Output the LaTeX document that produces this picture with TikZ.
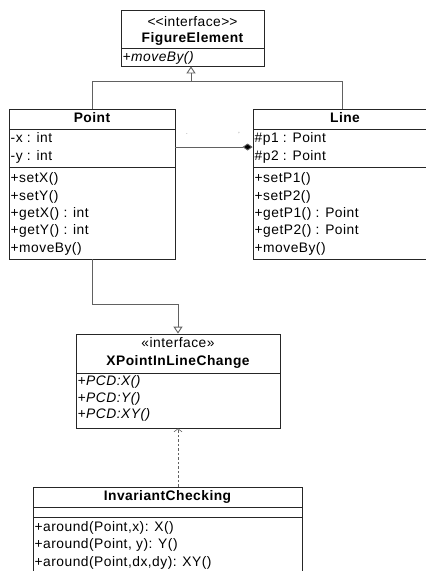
\documentclass[tikz,border=0pt]{standalone}
\usepackage{fontspec}
\setmainfont{Liberation Sans}[LetterSpace=3.5]
\usetikzlibrary{arrows.meta}
\begin{document}
\begin{tikzpicture}[x=1pt,y=-1pt,
  cbox/.style={draw=black!85, line width=0.8pt, inner sep=0pt},
  sep/.style={draw=black!85, line width=0.8pt},
  txt/.style={inner sep=0pt, anchor=mid west, yshift=-1.2pt, font=\fontsize{13.8}{16}\selectfont},
  ctr/.style={inner sep=0pt, anchor=mid, yshift=-1.2pt, font=\fontsize{13.8}{16}\selectfont},
  hdr/.style={inner sep=0pt, anchor=mid, yshift=-1.2pt, font=\fontsize{13.8}{16}\selectfont\bfseries},
  conn/.style={draw=black!62, line width=0.9pt},
  gen/.style={conn, -{Triangle[open, length=7pt, width=9pt, fill=white]}},
  comp/.style={conn, -{Diamond[length=10pt, width=7pt, fill=black]}},
  real/.style={conn, dashed, dash pattern=on 2.5pt off 2pt, line width=0.6pt, -{Straight Barb[length=3pt, width=8pt, line width=0.6pt]}},
  tinymark/.style={inner sep=0pt, font=\fontsize{6}{6}\selectfont, text=black!60}
]
\useasboundingbox (0,0) rectangle (426,571);
\begin{scope}
\clip (0,0) rectangle (426,571);
% FigureElement
\node[cbox, minimum width=143pt, minimum height=56pt] (fe) at (192.5,38) {};
\draw[sep] (121,48) -- (264,48);
\node[ctr] (fest) at (192.5,23) {<\kern0pt<interface>\kern0pt>};
\node[hdr] (fename) at (192.5,38.5) {FigureElement};
\node[txt] (fem) at (122.5,57.5) {\itshape +moveBy()};
% Point
\node[cbox, minimum width=166pt, minimum height=150pt] (pt) at (92,184) {};
\draw[sep] (9,129) -- (175,129);
\draw[sep] (9,167) -- (175,167);
\node[hdr] (ptname) at (92,118.5) {Point};
\node[txt] (pta1) at (10.5,139) {-x : int};
\node[txt] (pta2) at (10.5,157) {-y : int};
\node[txt] (ptm1) at (10.5,179) {+setX()};
\node[txt] (ptm2) at (10.5,196.3) {+setY()};
\node[txt] (ptm3) at (10.5,213.6) {+getX() : int};
\node[txt] (ptm4) at (10.5,230.9) {+getY() : int};
\node[txt] (ptm5) at (10.5,248.2) {+moveBy()};
% Line
\node[cbox, minimum width=178pt, minimum height=150pt] (ln) at (342,184) {};
\draw[sep] (253,129) -- (431,129);
\draw[sep] (253,167) -- (431,167);
\node[hdr] (lnname) at (345,118.5) {Line};
\node[txt] (lna1) at (254.5,139) {\#p1 : Point};
\node[txt] (lna2) at (254.5,157) {\#p2 : Point};
\node[txt] (lnm1) at (254.5,179) {+setP1()};
\node[txt] (lnm2) at (254.5,196.3) {+setP2()};
\node[txt] (lnm3) at (254.5,213.6) {+getP1() : Point};
\node[txt] (lnm4) at (254.5,230.9) {+getP2() : Point};
\node[txt] (lnm5) at (254.5,248.2) {+moveBy()};
% XPointInLineChange
\node[cbox, minimum width=204pt, minimum height=94pt] (xp) at (178,381) {};
\draw[sep] (76,373) -- (280,373);
\node[ctr] (xpst) at (178,344) {«interface»};
\node[hdr] (xpname) at (178,362) {XPointInLineChange};
\node[txt] (xpm1) at (77.5,381.7) {\itshape +PCD:X()};
\node[txt] (xpm2) at (77.5,398.3) {\itshape +PCD:Y()};
\node[txt] (xpm3) at (77.5,415) {\itshape +PCD:XY()};
% InvariantChecking
\node[cbox, minimum width=269pt, minimum height=100pt] (ic) at (167.5,537) {};
\draw[sep] (33,507) -- (302,507);
\draw[sep] (33,517) -- (302,517);
\node[hdr] (icname) at (167.5,496.5) {InvariantChecking};
\node[txt] (icm1) at (34.5,527.5) {+around(Point,x): X()};
\node[txt] (icm2) at (34.5,545) {+around(Point, y): Y()};
\node[txt] (icm3) at (34.5,563) {+around(Point,dx,dy): XY()};
% connectors
\coordinate (j1) at (191,81);
\draw[conn] (ln.north) |- (j1);
\draw[gen] (pt.north) |- (j1) -- (fe.south -| j1);
\coordinate (j2) at (92,304);
\draw[gen] (pt.south) -- (j2) -| (xp.north);
\draw[comp] (pt.east |- 0,147) -- (ln.west |- 0,147);
\draw[real] (ic.north -| xp.south) -- (xp.south);
\node[tinymark] (m1) at (187,134) {.};
\node[tinymark] (m2) at (239,134) {'};
\end{scope}
\end{tikzpicture}
\end{document}
